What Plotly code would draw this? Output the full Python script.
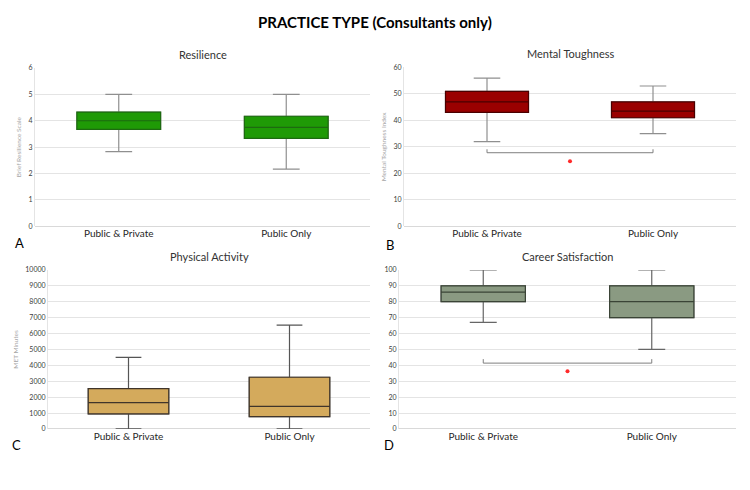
import plotly.graph_objects as go

categories = ["Public & Private", "Public Only"]
cat_pos = [0, 1]

panels = ["Resilience", "Mental Toughness", "Physical Activity", "Career Satisfaction"]
letters = ["A", "B", "C", "D"]
y_titles = ["Brief Resilience Scale", "Mental Toughness Index", "MET Minutes", ""]

lower = [[2.83, 2.17], [32, 35], [0, 0], [67, 50]]
q1 = [[3.67, 3.33], [43, 41], [950, 780], [80, 70]]
median = [[4.0, 3.75], [47, 43.5], [1650, 1420], [86, 80]]
q3 = [[4.33, 4.17], [51, 47], [2530, 3250], [90, 90]]
upper = [[5.0, 5.0], [56, 53], [4500, 6530], [100, 100]]

y_max = [6, 60, 10000, 100]
y_dtick = [1, 10, 1000, 10]

fill_colors = ["#1f9a06", "#9a0000", "#d4aa5c", "#8a9a82"]
line_colors = ["#1d6a10", "#4a0000", "#40352a", "#3a4436"]
whisker_colors = ["#8f8f8f", "#8f8f8f", "#555555", "#666666"]

# significance brackets
bracket_panel = [1, 3]
bracket_level = [27.8, 41.4]
bracket_tip = [29.1, 43.9]
star_level = [24.6, 36.3]

W, H = 750, 490
areas = [(35, 370, 64, 225), (404, 736, 63.5, 225), (48, 370, 269.3, 431), (399, 736, 269.3, 431)]
letter_pos = [(19, 242), (390, 244), (16, 447), (389, 447)]
title_y = [50, 49, 256, 256]

fig = go.Figure()
layout = {}
annotations = []

for i in range(4):
    ax = "" if i == 0 else str(i + 1)
    l, r, t, b = areas[i]
    # whiskers (full box, lighter line)
    fig.add_trace(go.Box(
        x=cat_pos,
        q1=q1[i], median=median[i], q3=q3[i],
        lowerfence=lower[i], upperfence=upper[i],
        width=0.5, whiskerwidth=0.32,
        fillcolor=fill_colors[i],
        line=dict(color=whisker_colors[i], width=1.2),
        boxpoints=False, hoverinfo="skip",
        xaxis="x" + ax, yaxis="y" + ax, showlegend=False,
    ))
    # box body with darker outline
    fig.add_trace(go.Box(
        x=cat_pos,
        q1=q1[i], median=median[i], q3=q3[i],
        lowerfence=q1[i], upperfence=q3[i],
        width=0.5, whiskerwidth=0,
        fillcolor=fill_colors[i],
        line=dict(color=line_colors[i], width=1.2),
        boxpoints=False, hoverinfo="skip",
        xaxis="x" + ax, yaxis="y" + ax, showlegend=False,
    ))
    layout["xaxis" + ax] = dict(
        domain=[l / W, r / W], anchor="y" + ax,
        range=[-0.5, 1.5], tickvals=cat_pos, ticktext=categories,
        showgrid=False, showline=False, zeroline=False,
        ticks="", tickfont=dict(size=10, color="#262626", family="Lato"),
        fixedrange=True,
    )
    layout["yaxis" + ax] = dict(
        domain=[1 - b / H, 1 - t / H], anchor="x" + ax,
        range=[0, y_max[i]], dtick=y_dtick[i], tickformat="d",
        showgrid=True, gridcolor="#e4e4e4", gridwidth=1,
        zeroline=True, zerolinecolor="#d9d9d9", zerolinewidth=1,
        showline=True, linecolor="#e4e4e4", linewidth=1,
        ticks="", tickfont=dict(size=7, color="#404040", family="Lato"),
        title=dict(text=y_titles[i], font=dict(size=6.5, color="#a6a6a6", family="Lato"), standoff=6),
        fixedrange=True,
    )
    annotations.append(dict(
        text=panels[i], x=(l + r) / 2 / W, y=1 - title_y[i] / H,
        xref="paper", yref="paper", showarrow=False,
        xanchor="center", yanchor="middle",
        font=dict(size=11, color="#333333", family="Lato"),
    ))
    annotations.append(dict(
        text=letters[i], x=letter_pos[i][0] / W, y=1 - letter_pos[i][1] / H,
        xref="paper", yref="paper", showarrow=False,
        xanchor="center", yanchor="middle",
        font=dict(size=13, color="#000000", family="Lato"),
    ))

for k, p in enumerate(bracket_panel):
    ax = "" if p == 0 else str(p + 1)
    fig.add_trace(go.Scatter(
        x=[cat_pos[0], cat_pos[0], cat_pos[1], cat_pos[1]],
        y=[bracket_tip[k], bracket_level[k], bracket_level[k], bracket_tip[k]],
        mode="lines", line=dict(color="#7f7f7f", width=1),
        xaxis="x" + ax, yaxis="y" + ax, showlegend=False, hoverinfo="skip",
    ))
    fig.add_trace(go.Scatter(
        x=[(cat_pos[0] + cat_pos[1]) / 2], y=[star_level[k]],
        mode="markers", marker=dict(color="#ff2a2a", size=4),
        xaxis="x" + ax, yaxis="y" + ax, showlegend=False, hoverinfo="skip",
    ))

annotations.append(dict(
    text="<b>PRACTICE TYPE (Consultants only)</b>", x=0.5, y=1 - 17 / H,
    xref="paper", yref="paper", showarrow=False,
    xanchor="center", yanchor="middle",
    font=dict(size=15, color="#000000", family="Lato"),
))

fig.update_layout(
    width=W, height=H,
    margin=dict(l=0, r=0, t=0, b=0),
    paper_bgcolor="white", plot_bgcolor="white",
    annotations=annotations,
    showlegend=False,
    **layout,
)

fig.write_html("out.html")
